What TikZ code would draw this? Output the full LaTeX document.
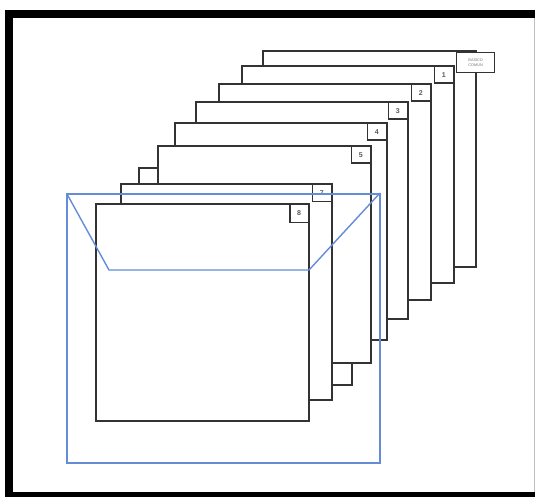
\documentclass[tikz,border=0pt]{standalone}
\usepackage{fontspec}
\setmainfont{Liberation Sans}
\begin{document}
\begin{tikzpicture}[x=1pt,y=-1pt,
  sheet/.style={draw=black!80,fill=white,line width=1.3pt},
  lbl/.style={draw=black!80,fill=white,line width=1.3pt,inner sep=0pt,
    minimum width=19pt,minimum height=16.5pt,anchor=north east,
    font=\fontsize{7}{7}\selectfont\bfseries,text=black!65},
  blue/.style={line width=1.4pt,color={rgb,255:red,100;green,140;blue,215}},
]
\useasboundingbox (0,0) rectangle (535,497);
\begin{scope}
\clip (0,0) rectangle (535,497);
\draw[line width=8pt,black] (9,14) rectangle (539.5,496);
\draw[black!25,line width=0.6pt] (534.7,18) -- (534.7,492);
\end{scope}
% back sheet
\draw[sheet] (263,51) rectangle (476,267);
\node[lbl,minimum width=38pt,minimum height=20pt,anchor=north west,
  font=\fontsize{3.8}{4.4}\selectfont,align=left,text=black!55] (l0) at (456,52) {BASICO\\COMUN};
\draw[sheet] (242,66) rectangle (454,283);
\node[lbl] (l1) at (454,66) {1};
\draw[sheet] (219,84) rectangle (431,300);
\node[lbl] (l2) at (431,84) {2};
\draw[sheet] (196,102) rectangle (408,319);
\node[lbl] (l3) at (408,102) {3};
\draw[sheet] (175,123) rectangle (387,340);
\node[lbl] (l4) at (387,123) {4};
\draw[sheet] (139,168) rectangle (352,385);
\draw[sheet] (158,146) rectangle (371,363);
\node[lbl] (l5) at (371,146) {5};
\draw[sheet] (121,184) rectangle (332,400);
\node[lbl] (l7) at (332,184) {7};
\draw[sheet] (96,204) rectangle (309,421);
\node[lbl,minimum width=18.5pt,minimum height=17.5pt] (l8) at (309,204) {8};
% blue envelope
\draw[blue] (67,194) rectangle (380,463);
\draw[blue,line join=round] (67,194) -- (109,270) -- (309,270) -- (380,193);
\end{tikzpicture}
\end{document}
